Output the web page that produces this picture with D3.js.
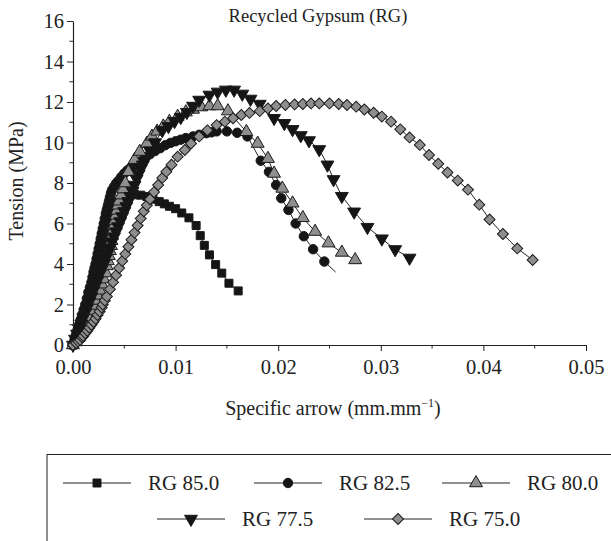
<!DOCTYPE html>
<html>
<head>
<meta charset="utf-8">
<script src="https://cdn.jsdelivr.net/npm/d3@7"></script>
<style>
  body { margin: 0; background: #fff; }
  svg { display: block; font-family: "Liberation Serif", "Times New Roman", serif; }
</style>
</head>
<body>
<div id="chart"></div>
<script>
// series data: [strain, stress MPa]
const rg850 = [[0,0],[0.0002,0.2],[0.0004,0.5],[0.0006,0.8],[0.0008,1.1],[0.001,1.45],[0.0012,1.8],[0.0014,2.15],[0.0016,2.5],[0.0018,2.85],[0.002,3.2],[0.0022,3.55],[0.0024,3.9],[0.0026,4.25],[0.0028,4.6],[0.003,4.95],[0.0032,5.3],[0.0034,5.65],[0.0036,6.0],[0.0038,6.3],[0.004,6.6],[0.0042,6.85],[0.0044,7.05],[0.0046,7.2],[0.0048,7.3],[0.0051,7.36],[0.0054,7.4],[0.006,7.42],[0.0066,7.4],[0.0072,7.33],[0.0078,7.2],[0.0084,7.08],[0.0089,6.97],[0.0094,6.85],[0.01,6.73],[0.0106,6.52],[0.0113,6.28],[0.012,5.9],[0.0124,5.4],[0.0128,4.92],[0.0133,4.45],[0.0139,3.97],[0.0145,3.55],[0.0152,3.05],[0.0161,2.67]];
const rg825 = [[0,0],[0.00015,0.25],[0.0003,0.5],[0.00045,0.75],[0.0006,1.0],[0.00075,1.25],[0.0009,1.5],[0.00105,1.75],[0.0012,2.0],[0.00135,2.3],[0.0015,2.6],[0.00165,2.85],[0.0018,3.1],[0.0019,3.35],[0.002,3.6],[0.0021,3.8],[0.0022,4.0],[0.0023,4.25],[0.0024,4.5],[0.0025,4.75],[0.0026,5.0],[0.0027,5.25],[0.0028,5.5],[0.0029,5.75],[0.003,6.0],[0.0031,6.25],[0.0032,6.5],[0.0033,6.7],[0.0034,6.9],[0.0035,7.1],[0.0036,7.3],[0.0037,7.5],[0.0038,7.65],[0.004,7.82],[0.0042,7.98],[0.0044,8.1],[0.0047,8.3],[0.005,8.47],[0.0053,8.62],[0.0056,8.75],[0.0059,8.85],[0.0062,8.95],[0.0065,9.05],[0.007,9.25],[0.0075,9.42],[0.008,9.58],[0.0085,9.72],[0.009,9.87],[0.0095,9.98],[0.01,10.06],[0.0105,10.14],[0.011,10.22],[0.0117,10.3],[0.0123,10.38],[0.013,10.46],[0.0135,10.5],[0.014,10.55],[0.015,10.55],[0.016,10.48],[0.017,10.3],[0.0183,9.1],[0.0191,8.55],[0.0198,7.9],[0.0203,7.25],[0.021,6.67],[0.0217,6.0],[0.0225,5.37],[0.0234,4.73],[0.0245,4.12]];
const rg825LineEnd = [0.0256, 3.6]; // line runs on past the last marker
const rg800 = [[0,0],[0.0003,0.15],[0.0006,0.4],[0.0009,0.65],[0.0012,1.0],[0.0015,1.35],[0.0018,1.7],[0.002,1.95],[0.0022,2.2],[0.0024,2.45],[0.0026,2.7],[0.0028,3.0],[0.003,3.25],[0.0032,3.55],[0.0033,3.9],[0.0034,4.15],[0.0035,4.4],[0.0036,4.65],[0.0037,4.9],[0.00375,5.15],[0.0038,5.4],[0.0039,5.65],[0.004,5.9],[0.0041,6.15],[0.0042,6.4],[0.0043,6.65],[0.0044,6.9],[0.0045,7.1],[0.0047,7.4],[0.0049,7.7],[0.0051,8.0],[0.0054,8.55],[0.006,9.15],[0.0065,9.55],[0.0072,9.95],[0.0077,10.3],[0.0082,10.55],[0.0088,10.8],[0.0094,11.03],[0.0102,11.28],[0.011,11.5],[0.0117,11.63],[0.0125,11.75],[0.0133,11.8],[0.0141,11.8],[0.0151,11.55],[0.0169,10.53],[0.018,9.95],[0.019,9.2],[0.0196,8.47],[0.0204,7.73],[0.0214,7.0],[0.0224,6.28],[0.0236,5.6],[0.0249,5.03],[0.0262,4.57],[0.0275,4.2]];
const rg775 = [[0,0],[0.0002,0.3],[0.0004,0.55],[0.0006,0.8],[0.0008,1.05],[0.001,1.35],[0.0012,1.6],[0.0014,1.85],[0.0016,2.15],[0.0018,2.4],[0.002,2.7],[0.0022,2.95],[0.0024,3.2],[0.0026,3.5],[0.0028,3.75],[0.003,4.0],[0.0032,4.3],[0.0034,4.55],[0.0036,4.8],[0.0038,5.1],[0.004,5.35],[0.0042,5.6],[0.0044,5.85],[0.0046,6.1],[0.0048,6.35],[0.005,6.6],[0.0052,6.85],[0.0054,7.1],[0.0056,7.35],[0.0058,7.6],[0.006,7.9],[0.0062,8.2],[0.0064,8.45],[0.0066,8.7],[0.0068,8.9],[0.007,9.1],[0.0075,9.6],[0.008,10.0],[0.0087,10.6],[0.0093,10.8],[0.0099,11.05],[0.0105,11.25],[0.0111,11.5],[0.0117,11.8],[0.0123,12.1],[0.0133,12.35],[0.0141,12.5],[0.0149,12.6],[0.0157,12.6],[0.0165,12.4],[0.0173,12.15],[0.0182,11.9],[0.0196,11.2],[0.0206,10.95],[0.0214,10.65],[0.0222,10.35],[0.023,10.1],[0.024,9.66],[0.0248,8.9],[0.0254,8.18],[0.0262,7.35],[0.0274,6.58],[0.0287,5.82],[0.0301,5.25],[0.0314,4.72],[0.0328,4.3]];
const rg750 = [[0,0],[0.0003,0.1],[0.0005,0.18],[0.0007,0.25],[0.0009,0.38],[0.001,0.45],[0.0012,0.58],[0.0014,0.7],[0.0016,0.85],[0.0018,1.0],[0.002,1.15],[0.0022,1.3],[0.0024,1.48],[0.0026,1.65],[0.0028,1.85],[0.0029,2.0],[0.0031,2.2],[0.0033,2.4],[0.0036,2.75],[0.0039,3.1],[0.0042,3.45],[0.0045,3.8],[0.0048,4.15],[0.0051,4.5],[0.0054,4.85],[0.0057,5.2],[0.006,5.55],[0.0063,5.9],[0.0066,6.25],[0.0069,6.6],[0.0072,6.9],[0.0075,7.2],[0.0079,7.55],[0.0083,7.9],[0.0087,8.25],[0.0091,8.56],[0.0096,8.9],[0.0102,9.3],[0.0109,9.63],[0.0115,9.95],[0.0123,10.3],[0.0131,10.6],[0.014,10.86],[0.0148,11.03],[0.0156,11.2],[0.0164,11.36],[0.0172,11.46],[0.0182,11.55],[0.019,11.68],[0.0198,11.8],[0.0207,11.85],[0.0216,11.88],[0.0224,11.9],[0.0232,11.93],[0.024,11.93],[0.025,11.93],[0.0259,11.9],[0.0267,11.85],[0.0276,11.77],[0.0284,11.63],[0.0293,11.47],[0.0301,11.28],[0.031,11.03],[0.0319,10.65],[0.0328,10.25],[0.0338,9.88],[0.0347,9.38],[0.0356,8.95],[0.0365,8.52],[0.0375,8.12],[0.0385,7.67],[0.0396,6.93],[0.0406,6.2],[0.0419,5.48],[0.0433,4.77],[0.0448,4.2]];

const seriesNames = ["RG 85.0", "RG 82.5", "RG 80.0", "RG 77.5", "RG 75.0"];
const xTicks = [0, 0.01, 0.02, 0.03, 0.04, 0.05];
const yTicks = [0, 2, 4, 6, 8, 10, 12, 14, 16];

const series = [
  { name: seriesNames[0], pts: rg850, shape: "square", fill: "#151515" },
  { name: seriesNames[1], pts: rg825, shape: "circle", fill: "#151515", end: rg825LineEnd },
  { name: seriesNames[2], pts: rg800, shape: "up", fill: "#8e8e8e" },
  { name: seriesNames[3], pts: rg775, shape: "down", fill: "#151515" },
  { name: seriesNames[4], pts: rg750, shape: "diamond", fill: "#8e8e8e" }
];

const width = 611, height = 541;
const x = d3.scaleLinear().domain([0, 0.05]).range([73, 586]);
const y = d3.scaleLinear().domain([0, 16]).range([345, 21]);

const svg = d3.select("#chart").append("svg")
    .attr("width", width)
    .attr("height", height);

// marker paths
function marker(shape) {
  if (shape === "square") return d3.symbol(d3.symbolSquare, 64)();
  if (shape === "circle") return d3.symbol(d3.symbolCircle, 70)();
  if (shape === "diamond") return d3.symbol(d3.symbolSquare, 60)();
  return d3.symbol(d3.symbolTriangle, 72)();
}
function rot(shape) {
  if (shape === "diamond") return 45;
  if (shape === "down") return 180;
  return 0;
}

// axes
const xAxis = d3.axisBottom(x).tickValues(xTicks).tickFormat(d3.format(".2f")).tickSize(6).tickSizeOuter(0);
const yAxis = d3.axisLeft(y).tickValues(yTicks).tickFormat(d3.format("d")).tickSize(6).tickSizeOuter(0);

const gx = svg.append("g").attr("transform", `translate(0,${y(0)})`).call(xAxis);
const gy = svg.append("g").attr("transform", `translate(${x(0)},0)`).call(yAxis);

// minor ticks
gx.selectAll(".minor").data(d3.range(0.005, 0.05, 0.01)).join("line")
    .attr("x1", d => x(d)).attr("x2", d => x(d))
    .attr("y1", 0).attr("y2", 3.5).attr("stroke", "#222");
gy.selectAll(".minor").data(d3.range(1, 16, 2)).join("line")
    .attr("y1", d => y(d)).attr("y2", d => y(d))
    .attr("x1", 0).attr("x2", -3.5).attr("stroke", "#222");

[gx, gy].forEach(g => {
  g.attr("font-family", null);
  g.selectAll("path.domain").attr("stroke", "#222").attr("stroke-width", 1.2);
  g.selectAll(".tick line").attr("stroke", "#222");
  g.selectAll("text").attr("font-size", 20.5).attr("fill", "#222");
});
gx.selectAll("text").attr("dy", "1em").attr("y", 8);
gy.selectAll("text").attr("x", -9);

// curves
const line = d3.line().x(d => x(d[0])).y(d => y(d[1]));
series.forEach(s => {
  const g = svg.append("g");
  const linePts = s.end ? s.pts.concat([s.end]) : s.pts;
  g.append("path").attr("d", line(linePts))
      .attr("fill", "none").attr("stroke", "#222").attr("stroke-width", 1);
  g.selectAll("path.m").data(s.pts).join("path")
      .attr("class", "m")
      .attr("d", marker(s.shape))
      .attr("transform", d => `translate(${x(d[0])},${y(d[1])}) rotate(${rot(s.shape)})`)
      .attr("fill", s.fill)
      .attr("stroke", "#1a1a1a").attr("stroke-width", 1);
});

// title and axis labels
svg.append("text").attr("x", 318).attr("y", 22).attr("text-anchor", "middle")
    .attr("font-size", 18.5).attr("fill", "#222").text("Recycled Gypsum (RG)");

const xl = svg.append("text").attr("x", 333).attr("y", 415).attr("text-anchor", "middle")
    .attr("font-size", 20).attr("fill", "#222");
xl.append("tspan").text("Specific arrow (mm.mm");
xl.append("tspan").attr("font-size", 12).attr("dy", -8).text("\u22121");
xl.append("tspan").attr("dy", 8).text(")");

svg.append("text").attr("transform", "translate(23,181) rotate(-90)").attr("text-anchor", "middle")
    .attr("font-size", 20).attr("fill", "#222").text("Tension (MPa)");

// legend
const legendItems = [
  { s: series[0], cx: 97, cy: 483 },
  { s: series[1], cx: 288, cy: 483 },
  { s: series[2], cx: 476, cy: 483 },
  { s: series[3], cx: 191, cy: 519 },
  { s: series[4], cx: 398, cy: 519 }
];
svg.append("rect").attr("x", 47).attr("y", 454.5).attr("width", 600).attr("height", 120)
    .attr("fill", "none").attr("stroke", "#222").attr("stroke-width", 1);
const lg = svg.append("g").selectAll("g").data(legendItems).join("g")
    .attr("transform", d => `translate(${d.cx},${d.cy})`);
lg.append("line").attr("x1", -34).attr("x2", 34).attr("stroke", "#222").attr("stroke-width", 1);
lg.append("path").attr("d", d => marker(d.s.shape))
    .attr("transform", d => `rotate(${rot(d.s.shape)})`)
    .attr("fill", d => d.s.fill).attr("stroke", "#1a1a1a");
lg.append("text").attr("x", 51).attr("dy", "0.35em").attr("font-size", 21).attr("fill", "#222")
    .text(d => d.s.name);
</script>
</body>
</html>
